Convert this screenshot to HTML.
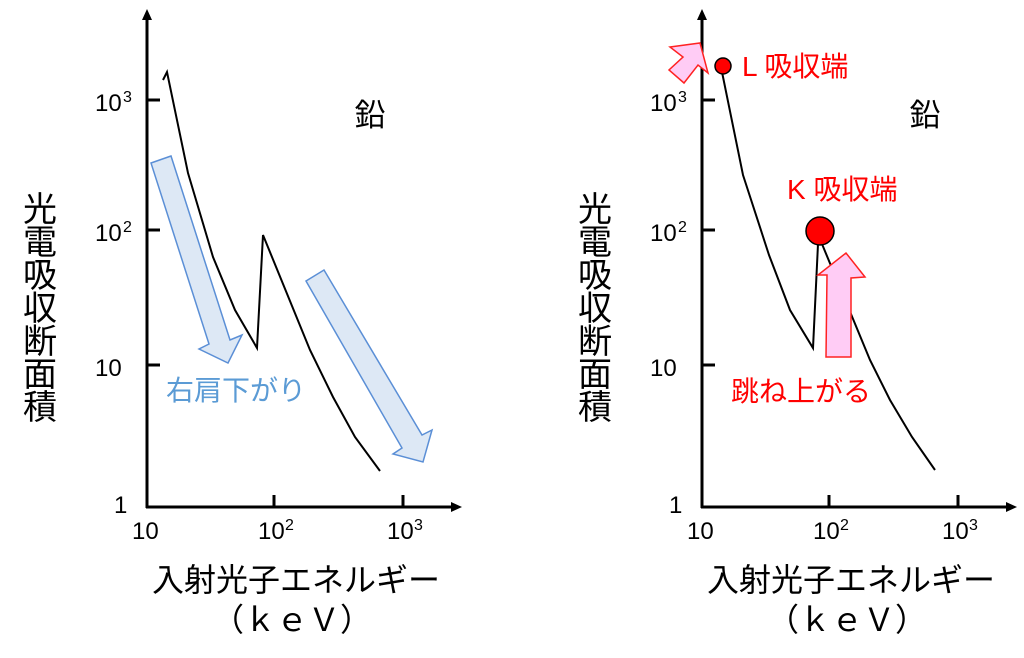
<!DOCTYPE html>
<html><head><meta charset="utf-8"><style>
html,body{margin:0;padding:0;background:#fff}
svg{display:block}
text{font-family:"Liberation Sans","Noto Sans CJK JP",sans-serif}
</style></head><body>
<svg width="1024" height="658" viewBox="0 0 1024 658" xmlns="http://www.w3.org/2000/svg">
<defs>
<g id="axes">
  <line x1="147" y1="16" x2="147" y2="508" stroke="#000" stroke-width="3"/>
  <polygon points="147,9 142,20 152,20" fill="#000"/>
  <line x1="146" y1="507" x2="455" y2="507" stroke="#000" stroke-width="3"/>
  <polygon points="462,507 451,502 451,512" fill="#000"/>
  <g stroke="#000" stroke-width="3">
    <line x1="147" y1="100" x2="160" y2="100"/>
    <line x1="147" y1="230" x2="160" y2="230"/>
    <line x1="147" y1="365" x2="160" y2="365"/>
    <line x1="274" y1="507" x2="274" y2="495"/>
    <line x1="403" y1="507" x2="403" y2="495"/>
  </g>
  <g font-size="24" fill="#000">
    <text x="95" y="111">10</text><text x="123" y="102" font-size="16">3</text>
    <text x="95" y="241">10</text><text x="123" y="232" font-size="16">2</text>
    <text x="95" y="376">10</text>
    <text x="114" y="513">1</text>
  </g>
  <g font-size="24" fill="#000">
    <text x="132" y="539">10</text>
    <text x="258" y="539">10</text><text x="285" y="530" font-size="16">2</text>
    <text x="387" y="539">10</text><text x="414" y="530" font-size="16">3</text>
  </g>
  <g font-size="34" fill="#000" text-anchor="middle">
    <text x="40" y="221">光</text><text x="40" y="254">電</text><text x="40" y="287">吸</text>
    <text x="40" y="320">収</text><text x="40" y="353">断</text><text x="40" y="386">面</text><text x="40" y="419">積</text>
  </g>
  <text x="296" y="591" font-size="32" fill="#000" text-anchor="middle">入射光子エネルギー</text>
  <text x="292" y="631" font-size="32" fill="#000" text-anchor="middle">（ｋｅＶ）</text>
  <text x="370" y="126" font-size="31" fill="#000" text-anchor="middle">鉛</text>
</g>
</defs>
<use href="#axes"/>
<use href="#axes" x="555"/>

<!-- left curve -->
<polyline points="163,80 167,72 188,173 213,257 235,310 257,348 263,235 310,350 333,397 355,437 380,471" fill="none" stroke="#000" stroke-width="2"/>
<!-- left arrows -->
<polygon points="151,163 171,156 230,340 242,335 228,363 199,349 209,344" fill="#dde8f5" stroke="#5b8fd6" stroke-width="1.5"/>
<polygon points="306,281 324,270 422,435 432,430 423,462 393,454 402,448" fill="#dde8f5" stroke="#5b8fd6" stroke-width="1.5"/>
<text x="166" y="400" font-size="28" fill="#5b9bd5">右肩下がり</text>

<!-- right curve -->
<polyline points="722,72 743,175 769,255 790,310 813,348 818,244 822,244 870,360 890,400 912,437 935,470" fill="none" stroke="#000" stroke-width="2"/>
<circle cx="723" cy="66" r="8" fill="#f00" stroke="#000" stroke-width="1.5"/>
<circle cx="820" cy="231" r="14" fill="#f00" stroke="#000" stroke-width="1.5"/>
<polygon points="670,47 700,43 708,73 698,65 684,83 669,70 683,57" fill="#ffccf5" stroke="#f22" stroke-width="1.5"/>
<polygon points="826,357 851,357 851,278 865,277 846,253 818,275 827,275" fill="#ffccf5" stroke="#f22" stroke-width="1.5"/>
<text x="742" y="76" font-size="28" fill="#f00">L  吸収端</text>
<text x="787" y="199" font-size="28" fill="#f00">K 吸収端</text>
<text x="731" y="401" font-size="28" fill="#f00">跳ね上がる</text>
</svg>
</body></html>
